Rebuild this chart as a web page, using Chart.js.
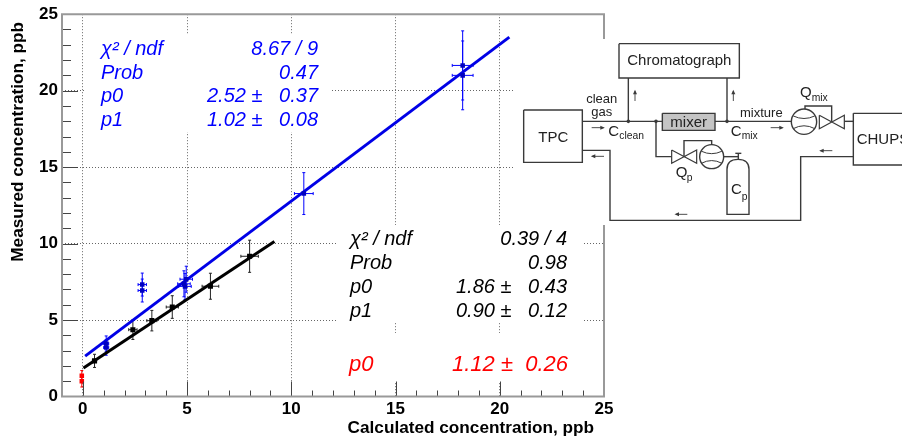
<!DOCTYPE html>
<html>
<head>
<meta charset="utf-8">
<style>html,body{margin:0;padding:0;background:#fff}canvas{display:block;filter:blur(0.35px)}</style>
<script src="https://cdn.jsdelivr.net/npm/chart.js@4"></script>
</head>
<body>
<canvas id="c" width="902" height="440"></canvas>
<script>
const xMajorTicks = [0, 5, 10, 15, 20, 25];
const yMajorTicks = [0, 5, 10, 15, 20, 25];

const blackX = [0.56, 2.4, 3.31, 4.29, 6.12, 8.0];
const blackY = [2.33, 4.37, 4.96, 5.85, 7.21, 9.17];
const blackXErr = [0.1, 0.2, 0.24, 0.29, 0.4, 0.42];
const blackYErr = [0.43, 0.64, 0.67, 0.74, 0.85, 1.05];

const blueX = [1.12, 1.12, 2.85, 2.85, 4.96, 4.85, 4.9, 10.6, 18.22, 18.22];
const blueY = [3.46, 3.2, 7.32, 6.93, 7.67, 7.37, 7.2, 13.27, 21.65, 21.0];
const blueXErr = [0.12, 0.12, 0.2, 0.2, 0.3, 0.3, 0.3, 0.45, 0.5, 0.5];
const blueYErr = [0.5, 0.5, 0.75, 0.75, 0.85, 0.85, 0.85, 1.37, 2.26, 2.25];

const redX = [-0.05, -0.05];
const redY = [1.35, 0.99];
const redXErr = [0.05, 0.05];
const redYErr = [0.35, 0.37];

const blueFitX = [0.11, 20.46];
const blueFitY = [2.64, 23.5];
const blackFitX = [0.03, 9.19];
const blackFitY = [1.87, 10.14];

const blueStats = [["\u03C7\u00B2 / ndf", "8.67 / 9"], ["Prob", "0.47"], ["p0", "2.52 \u00B1   0.37"], ["p1", "1.02 \u00B1   0.08"]];
const blackStats = [["\u03C7\u00B2 / ndf", "0.39 / 4"], ["Prob", "0.98"], ["p0", "1.86 \u00B1   0.43"], ["p1", "0.90 \u00B1   0.12"]];
const redStats = [["p0", "1.12 \u00B1  0.26"]];

const pts = (xs, ys) => xs.map((x, i) => ({ x, y: ys[i] }));
const SANS = '"Liberation Sans", Arial, sans-serif';
const BLUE = '#0000ff', RED = '#ff0000', BLACK = '#000000';

const errorSets = [
  { xs: redX, ys: redY, xe: redXErr, ye: redYErr, color: RED },
  { xs: blackX, ys: blackY, xe: blackXErr, ye: blackYErr, color: '#222' },
  { xs: blueX, ys: blueY, xe: blueXErr, ye: blueYErr, color: BLUE }
];

/* white panels hiding the grid */
const panels = [[84, 35, 248, 97], [337, 225, 245, 97], [337, 333, 245, 49], [513, 39, 389, 186]];

function drawPanels(ctx) {
  ctx.save();
  ctx.fillStyle = '#fff';
  panels.forEach(p => ctx.fillRect(p[0], p[1], p[2], p[3]));
  ctx.restore();
}

function drawErrors(chart) {
  const { ctx, scales: { x, y } } = chart;
  ctx.save();
  ctx.lineWidth = 1;
  errorSets.forEach(s => {
    ctx.strokeStyle = s.color;
    s.xs.forEach((v, i) => {
      const px = x.getPixelForValue(v), py = y.getPixelForValue(s.ys[i]);
      const l = x.getPixelForValue(v - s.xe[i]), r = x.getPixelForValue(v + s.xe[i]);
      const t = y.getPixelForValue(s.ys[i] + s.ye[i]), b = y.getPixelForValue(s.ys[i] - s.ye[i]);
      ctx.beginPath();
      ctx.moveTo(l, py); ctx.lineTo(r, py);
      ctx.moveTo(px, t); ctx.lineTo(px, b);
      ctx.moveTo(px - 1.5, t); ctx.lineTo(px + 1.5, t);
      ctx.moveTo(px - 1.5, b); ctx.lineTo(px + 1.5, b);
      ctx.moveTo(l, py - 1.5); ctx.lineTo(l, py + 1.5);
      ctx.moveTo(r, py - 1.5); ctx.lineTo(r, py + 1.5);
      ctx.stroke();
    });
  });
  ctx.restore();
}

function drawFrame(chart) {
  const { ctx, chartArea: a, scales: { x, y } } = chart;
  ctx.save();
  ctx.strokeStyle = '#444';
  ctx.lineWidth = 1;
  for (let v = 0; v <= 24; v++) {
    const px = Math.round(x.getPixelForValue(v)) + 0.5;
    const len = xMajorTicks.includes(v) ? 15 : 6;
    ctx.beginPath(); ctx.moveTo(px, a.bottom); ctx.lineTo(px, a.bottom - len); ctx.stroke();
  }
  for (let v = 1; v <= 24; v++) {
    const py = Math.round(y.getPixelForValue(v)) + 0.5;
    const len = yMajorTicks.includes(v) ? 16 : 9;
    ctx.beginPath(); ctx.moveTo(a.left, py); ctx.lineTo(a.left + len, py); ctx.stroke();
  }
  ctx.strokeStyle = '#999';
  ctx.lineWidth = 2;
  ctx.beginPath();
  ctx.moveTo(a.right, 39); ctx.lineTo(a.right, a.top); ctx.lineTo(a.left, a.top);
  ctx.lineTo(a.left, a.bottom); ctx.lineTo(a.right, a.bottom); ctx.lineTo(a.right, 225);
  ctx.stroke();
  ctx.restore();
}

function drawStats(ctx, rows, left, right, base, step, size, color) {
  ctx.save();
  ctx.fillStyle = color;
  ctx.font = 'italic ' + size + 'px ' + SANS;
  ctx.textBaseline = 'alphabetic';
  rows.forEach((r, i) => {
    ctx.textAlign = 'left';
    ctx.fillText(r[0], left, base + i * step);
    ctx.textAlign = 'right';
    ctx.fillText(r[1], right, base + i * step);
  });
  ctx.restore();
}

function drawTitles(ctx) {
  ctx.save();
  ctx.fillStyle = '#000';
  ctx.font = 'bold 17.2px ' + SANS;
  ctx.textBaseline = 'alphabetic';
  ctx.textAlign = 'right';
  ctx.fillText('Calculated concentration, ppb', 594, 433);
  ctx.translate(23, 22);
  ctx.rotate(-Math.PI / 2);
  ctx.fillText('Measured concentration, ppb', 0, 0);
  ctx.restore();
}

/* Schematic: coordinates below are relative to its own origin at one third scale */
function drawDiagram(ctx) {
  const X = v => 510 + v / 3, Y = v => 30 + v / 3;
  const INK = '#3a3a3a';
  ctx.save();
  ctx.strokeStyle = INK;
  ctx.fillStyle = INK;
  ctx.lineJoin = 'miter';
  const poly = (p, w) => {
    ctx.lineWidth = w || 1.4;
    ctx.beginPath();
    p.forEach((q, i) => i ? ctx.lineTo(X(q[0]), Y(q[1])) : ctx.moveTo(X(q[0]), Y(q[1])));
    ctx.stroke();
  };
  const box = (a, b, c, d, fill) => {
    if (fill) { ctx.save(); ctx.fillStyle = fill; ctx.fillRect(X(a), Y(b), (c - a) / 3, (d - b) / 3); ctx.restore(); }
    poly([[a, b], [c, b], [c, d], [a, d], [a, b]]);
  };
  const dot = (a, b) => { ctx.beginPath(); ctx.arc(X(a), Y(b), 1.8, 0, 7); ctx.fill(); };
  const meter = (a, b, r) => {
    ctx.lineWidth = 1.4;
    ctx.beginPath(); ctx.arc(X(a), Y(b), r / 3, 0, 7); ctx.stroke();
    ctx.lineWidth = 1;
    ctx.beginPath();
    ctx.moveTo(X(a - r * 0.85), Y(b - r * 0.45));
    ctx.quadraticCurveTo(X(a), Y(b - r * 0.05), X(a + r * 0.85), Y(b - r * 0.45));
    ctx.moveTo(X(a - r * 0.85), Y(b + r * 0.55));
    ctx.quadraticCurveTo(X(a), Y(b + r * 0.1), X(a + r * 0.85), Y(b + r * 0.55));
    ctx.stroke();
  };
  const valve = (a, c, b, h) => {
    poly([[a, b - h], [c, b + h], [c, b - h], [a, b + h], [a, b - h]], 1.2);
  };
  const arrow = (x1, y1, x2, y2) => {
    poly([[x1, y1], [x2, y2]], 0.9);
    const dx = Math.sign(x2 - x1), dy = Math.sign(y2 - y1);
    ctx.beginPath();
    ctx.moveTo(X(x2) + dx * 1.5 , Y(y2) + dy * 1.5);
    ctx.lineTo(X(x2) - dx * 3 + dy * 2, Y(y2) - dy * 3 + dx * 2);
    ctx.lineTo(X(x2) - dx * 3 - dy * 2, Y(y2) - dy * 3 - dx * 2);
    ctx.closePath(); ctx.fill();
  };
  const text = (s, a, b, size, align) => {
    ctx.font = (size / 3) + 'px ' + SANS;
    ctx.textAlign = align || 'left';
    ctx.textBaseline = 'alphabetic';
    ctx.fillStyle = '#222';
    ctx.fillText(s, X(a), Y(b));
    ctx.fillStyle = INK;
  };

  box(327, 41, 688, 144);
  box(41, 240, 217, 397);
  box(1030, 250, 1250, 405);
  box(457, 250, 615, 301, '#c4c4c4');

  poly([[217, 274], [457, 274]]);
  poly([[615, 274], [845, 274]]);
  poly([[1003, 274], [1030, 274]]);
  poly([[355, 144], [355, 274]]);
  poly([[651, 144], [651, 274]]);
  poly([[438, 274], [438, 380], [485, 380]]);
  poly([[642, 380], [685, 380]]);
  poly([[522, 380], [522, 332], [605, 332], [605, 345]]);
  poly([[885, 237], [885, 228], [965, 228], [965, 275]]);
  poly([[217, 361], [300, 361], [300, 571], [872, 571], [872, 380], [1030, 380]]);
  dot(355, 274); dot(438, 274); dot(651, 274);

  meter(882, 275, 38);
  valve(928, 1003, 276, 20);
  valve(485, 560, 380, 20);
  meter(605, 380, 36);

  /* gas bottle */
  poly([[676, 370], [694, 370]]);
  poly([[685, 370], [685, 390]]);
  ctx.lineWidth = 1.4;
  ctx.beginPath();
  ctx.moveTo(X(651), Y(553));
  ctx.lineTo(X(651), Y(418));
  ctx.quadraticCurveTo(X(651), Y(388), X(684), Y(388));
  ctx.quadraticCurveTo(X(717), Y(388), X(717), Y(418));
  ctx.lineTo(X(717), Y(553));
  ctx.closePath();
  ctx.stroke();

  arrow(375, 213, 375, 184);
  arrow(670, 213, 670, 184);
  arrow(245, 293, 280, 293);
  arrow(782, 293, 817, 293);
  arrow(282, 379, 247, 379);
  arrow(967, 362, 932, 362);
  arrow(532, 553, 498, 553);

  text('Chromatograph', 508, 105, 45, 'center');
  text('TPC', 130, 335, 45, 'center');
  text('CHUPS', 1040, 343, 45);
  text('mixer', 536, 291, 45, 'center');
  text('clean', 275, 218, 39, 'center');
  text('gas', 275, 257, 39, 'center');
  text('C', 295, 318, 45); text('clean', 328, 328, 31);
  text('C', 662, 318, 45); text('mix', 695, 328, 31);
  text('mixture', 690, 262, 39);
  text('Q', 870, 200, 45); text('mix', 905, 213, 31);
  text('Q', 497, 440, 45); text('p', 530, 452, 31);
  text('C', 663, 492, 45); text('p', 695, 510, 31);
  ctx.restore();
}

const overlay = {
  id: 'overlay',
  beforeDatasetsDraw(chart) {
    drawPanels(chart.ctx);
    drawErrors(chart);
  },
  afterDatasetsDraw(chart) {
    const ctx = chart.ctx;
    drawFrame(chart);
    drawStats(ctx, blueStats, 101, 318, 55, 23.7, 20, BLUE);
    drawStats(ctx, blackStats, 350, 567, 245, 24, 20, BLACK);
    drawStats(ctx, redStats, 349, 568, 371, 24, 22, RED);
    drawTitles(ctx);
    drawDiagram(ctx);
  }
};

const majorGrid = list => ctx => (ctx.tick && list.includes(ctx.tick.value)) ? '#666' : 'rgba(0,0,0,0)';

new Chart(document.getElementById('c'), {
  type: 'scatter',
  data: {
    datasets: [
      { label: 'Black fit', data: pts(blackFitX, blackFitY), showLine: true, borderColor: BLACK, borderWidth: 3, pointRadius: 0, order: 2 },
      { label: 'Blue fit', data: pts(blueFitX, blueFitY), showLine: true, borderColor: '#0000e6', borderWidth: 3, pointRadius: 0, order: 1 },
      { label: 'Black points', data: pts(blackX, blackY), backgroundColor: BLACK, borderWidth: 0, pointStyle: 'rect', pointRadius: 3.6, order: 0 },
      { label: 'Blue points', data: pts(blueX, blueY), backgroundColor: '#0000c0', borderWidth: 0, pointStyle: 'rect', pointRadius: 3.2, order: 0 },
      { label: 'Red points', data: pts(redX, redY), backgroundColor: RED, borderWidth: 0, pointStyle: 'rect', pointRadius: 3.2, order: 0 }
    ]
  },
  options: {
    responsive: false,
    animation: false,
    events: [],
    layout: { padding: { top: 12.5, right: 298, left: 0, bottom: 0 } },
    plugins: { legend: { display: false }, tooltip: { enabled: false } },
    scales: {
      x: {
        type: 'linear', min: -1, max: 25,
        afterFit(s) { s.height = 43.5; },
        border: { display: false, dash: [1, 2] },
        grid: { drawTicks: false, color: majorGrid(xMajorTicks), lineWidth: 1, tickLength: 0 },
        ticks: {
          stepSize: 1, autoSkip: false, maxRotation: 0, padding: 3, color: '#000',
          font: { family: SANS, weight: 'bold', size: 17 },
          callback: v => xMajorTicks.includes(v) ? String(v) : ''
        }
      },
      y: {
        type: 'linear', min: 0, max: 25,
        afterFit(s) { s.width = 62; },
        border: { display: false, dash: [1, 2] },
        grid: { drawTicks: false, color: majorGrid(yMajorTicks), lineWidth: 1, tickLength: 0 },
        ticks: {
          stepSize: 5, autoSkip: false, padding: 4, color: '#000',
          font: { family: SANS, weight: 'bold', size: 17 },
          callback: v => yMajorTicks.includes(v) ? String(v) : ''
        }
      }
    }
  },
  plugins: [overlay]
});
</script>
</body>
</html>
